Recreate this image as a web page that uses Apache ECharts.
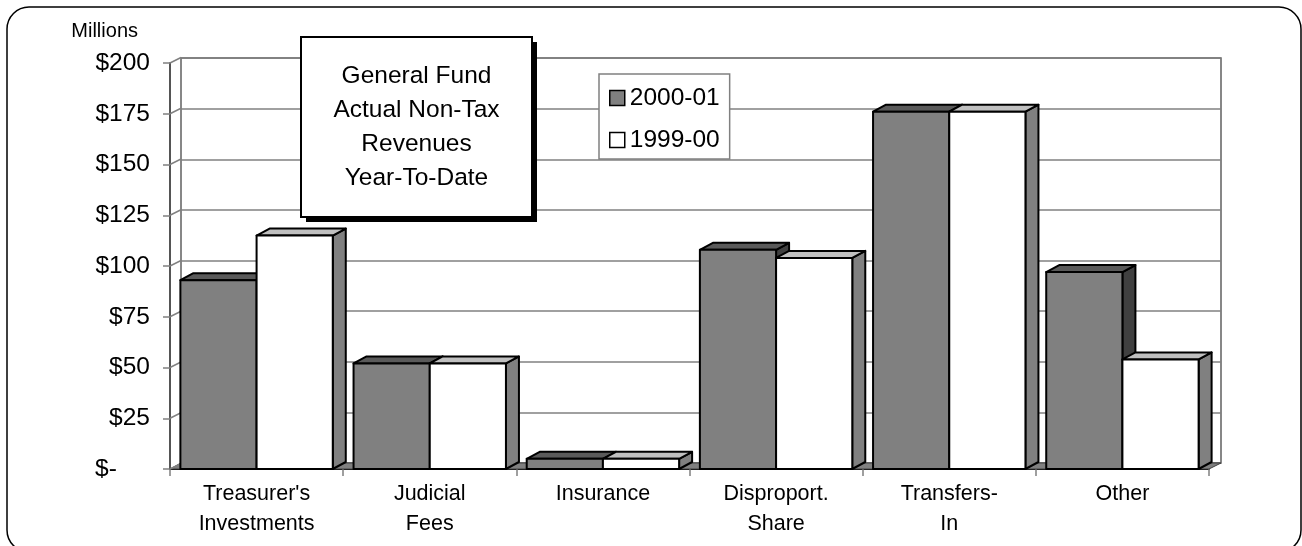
<!DOCTYPE html>
<html><head><meta charset="utf-8">
<script src="https://cdn.jsdelivr.net/npm/echarts@6/dist/echarts.min.js"></script>
<style>html,body{margin:0;padding:0;background:#fff}#c{width:1302px;height:546px}</style>
</head><body><div id="c"></div>
<script>
const categories = ["Treasurer's\nInvestments", "Judicial\nFees", "Insurance", "Disproport.\nShare", "Transfers-\nIn", "Other"];
const values2000 = [93, 52, 5, 108, 176, 97];
const values1999 = [115, 52, 5, 104, 176, 54];
const yTicks = [0, 25, 50, 75, 100, 125, 150, 175, 200];
const seriesNames = ['2000-01', '1999-00'];
const titleLines = ['General Fund', 'Actual Non-Tax', 'Revenues', 'Year-To-Date'];
const unitLabel = 'Millions';

const FONT = "'Liberation Sans', Arial, sans-serif";
const faces = [
  {front: '#808080', top: '#5a5a5a', side: '#404040'},
  {front: '#ffffff', top: '#c0c0c0', side: '#808080'}
];

function barRenderer(slot) {
  const f = faces[slot];
  return function (params, api) {
    const i = api.value(0), v = api.value(1);
    const top = api.coord([i, v]);
    const base = api.coord([i, 0]);
    const band = api.size([1, 0])[0];
    const w = band * 0.44;
    const x0 = top[0] - w + slot * w;
    const DX = 13, DY = -7;
    const t = top[1], b = base[1];
    const st = {stroke: '#000', lineWidth: 2, lineJoin: 'round'};
    return {type: 'group', children: [
      {type: 'polygon', shape: {points: [[x0 + w, t], [x0 + w + DX, t + DY], [x0 + w + DX, b + DY], [x0 + w, b]]}, style: Object.assign({}, st, {fill: f.side})},
      {type: 'polygon', shape: {points: [[x0, t], [x0 + DX, t + DY], [x0 + w + DX, t + DY], [x0 + w, t]]}, style: Object.assign({}, st, {fill: f.top})},
      {type: 'rect', shape: {x: x0, y: t, width: w, height: b - t}, style: Object.assign({}, st, {fill: f.front})}
    ]};
  };
}

function wallRenderer(params, api) {
  const v = api.value(1);
  const p = api.coord([0, v]);
  const band = api.size([1, 0])[0];
  const left = p[0] - band / 2;
  const children = [{type: 'line', shape: {x1: left, y1: p[1], x2: left + 11, y2: p[1] - 5.5}, style: {stroke: '#808080', lineWidth: 1.5}}];
  if (v === 0) {
    const right = api.coord([categories.length - 1, 0])[0] + band / 2;
    children.unshift({type: 'polygon', shape: {points: [[left, p[1]], [right, p[1]], [right + 12, p[1] - 6], [left + 11, p[1] - 6]]}, style: {fill: '#808080', stroke: '#404040', lineWidth: 1}});
  }
  return {type: 'group', children: children};
}

const chart = echarts.init(document.getElementById('c'), null, {renderer: 'canvas'});
chart.setOption({
  animation: false,
  backgroundColor: '#fff',
  textStyle: {fontFamily: FONT, color: '#000'},
  grid: [
    {left: 170, right: 93, top: 63, bottom: 77},
    {left: 181, right: 81, top: 58, bottom: 83, show: true, borderColor: '#606060', borderWidth: 1.5, backgroundColor: 'transparent'}
  ],
  xAxis: [
    {gridIndex: 0, type: 'category', data: categories, boundaryGap: true,
      axisLine: {show: true, lineStyle: {color: '#000', width: 2}},
      axisTick: {show: true, length: 7, lineStyle: {color: '#808080', width: 1.5}},
      axisLabel: {interval: 0, fontSize: 21.5, lineHeight: 30, margin: 10, color: '#000', fontFamily: FONT}},
    {gridIndex: 1, type: 'category', data: categories, show: false}
  ],
  yAxis: [
    {gridIndex: 0, type: 'value', min: 0, max: 200, interval: 25,
      axisLine: {show: true, lineStyle: {color: '#555', width: 2}},
      axisTick: {show: true, length: 7, lineStyle: {color: '#808080', width: 1.5}},
      splitLine: {show: false},
      axisLabel: {fontSize: 24.5, margin: 20, color: '#000', fontFamily: FONT,
        formatter: function (v) { return v === 0 ? '{z|$-}' : '$' + v; },
        rich: {z: {width: 55, align: 'left', fontSize: 24.5, fontFamily: FONT, color: '#000'}}},
      name: unitLabel, nameLocation: 'end', nameGap: 22,
      nameTextStyle: {fontSize: 20, fontFamily: FONT, color: '#000', align: 'right', padding: [0, 32, 0, 0]}},
    {gridIndex: 1, type: 'value', min: 0, max: 200, interval: 25,
      axisLine: {show: false}, axisTick: {show: false}, axisLabel: {show: false},
      splitLine: {show: true, lineStyle: {color: '#808080', width: 1.5}}}
  ],
  legend: {
    orient: 'vertical', left: 599, top: 74,
    backgroundColor: '#fff', borderColor: '#808080', borderWidth: 1.5,
    padding: [9, 10, 4, 10], itemWidth: 15, itemHeight: 15, itemGap: 12,
    icon: 'rect',
    textStyle: {fontSize: 24.5, lineHeight: 30, fontFamily: FONT, color: '#000'},
    data: [
      {name: seriesNames[0], itemStyle: {color: faces[0].front, borderColor: '#000', borderWidth: 1.5}},
      {name: seriesNames[1], itemStyle: {color: faces[1].front, borderColor: '#000', borderWidth: 1.5}}
    ]
  },
  graphic: [
    {type: 'rect', silent: true, z: 0, shape: {x: 7, y: 7, width: 1294, height: 545, r: 22}, style: {fill: 'none', stroke: '#000', lineWidth: 1.5}},
    {type: 'rect', z: 100, shape: {x: 306, y: 42, width: 231, height: 180}, style: {fill: '#000'}},
    {type: 'rect', z: 101, shape: {x: 301, y: 37, width: 231, height: 180}, style: {fill: '#fff', stroke: '#000', lineWidth: 2}},
    {type: 'text', z: 102, x: 416.5, y: 127, style: {text: titleLines.join('\n'), font: "24.5px 'Liberation Sans', Arial, sans-serif", lineHeight: 34, align: 'center', verticalAlign: 'middle', fill: '#000'}}
  ],
  series: [
    {type: 'custom', name: 'wall', xAxisIndex: 0, yAxisIndex: 0, z: 1, silent: true, clip: false,
      renderItem: wallRenderer, data: yTicks.map(function (v) { return [0, v]; }), encode: {x: 0, y: 1}},
    {type: 'custom', name: seriesNames[0], xAxisIndex: 0, yAxisIndex: 0, z: 2, clip: false,
      itemStyle: {color: faces[0].front},
      renderItem: barRenderer(0), data: values2000.map(function (v, i) { return [i, v]; }), encode: {x: 0, y: 1}},
    {type: 'custom', name: seriesNames[1], xAxisIndex: 0, yAxisIndex: 0, z: 3, clip: false,
      itemStyle: {color: faces[1].front},
      renderItem: barRenderer(1), data: values1999.map(function (v, i) { return [i, v]; }), encode: {x: 0, y: 1}}
  ]
});
</script></body></html>
